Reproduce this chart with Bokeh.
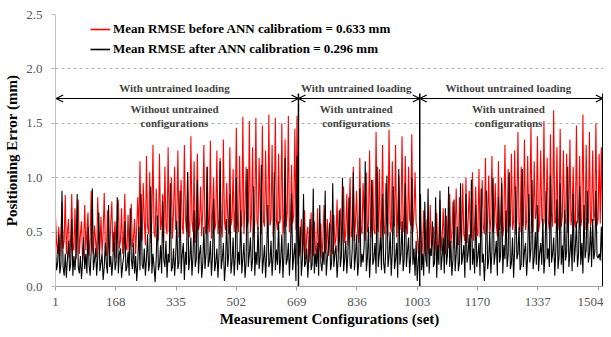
from bokeh.plotting import figure
from bokeh.models import (FixedTicker, Arrow, OpenHead, Label, Legend, LegendItem,
                          Range1d, PrintfTickFormatter)
from bokeh.embed import file_html
from bokeh.resources import INLINE

# ---------------- data (one value every 3 configurations) -------------
STEP = 3
red_before = [
    # configurations 1-230
    0.65, 0.40, 0.30, 0.55, 0.28, 0.48, 0.78, 0.35, 0.42, 0.84,
    0.30, 0.50, 0.62, 0.26, 0.45, 0.85, 0.38, 0.33, 0.72, 0.25,
    0.55, 0.80, 0.30, 0.48, 0.60, 0.24, 0.40, 0.75, 0.33, 0.52,
    0.68, 0.28, 0.44, 0.88, 0.36, 0.30, 0.56, 0.42, 0.27, 0.82,
    0.46, 0.34, 0.64, 0.30, 0.50, 0.86, 0.36, 0.28, 0.70, 0.40,
    0.27, 0.58, 0.78, 0.32, 0.45, 0.60, 0.26, 0.52, 0.80, 0.35,
    0.42, 0.72, 0.30, 0.48, 0.85, 0.38, 0.33, 0.66, 0.28, 0.50,
    0.76, 0.36, 0.44, 0.62, 0.30, 0.55, 0.82,
    # 232-330
    0.45, 1.15, 0.50, 0.42, 0.95, 0.60, 0.38, 1.20, 0.55, 0.48,
    1.05, 0.40, 0.62, 1.30, 0.50, 0.45, 0.90, 0.58, 0.42, 1.22,
    0.52, 0.60, 0.85, 0.40, 1.10, 0.55, 0.48, 1.28, 0.50, 0.62,
    1.00, 0.44, 0.70,
    # 333-500
    1.10, 0.52, 0.60, 1.25, 0.45, 0.70, 0.98, 0.55, 0.48, 1.30,
    0.62, 0.50, 1.05, 0.58, 0.45, 1.38, 0.60, 0.50, 1.15, 0.40,
    0.66, 1.22, 0.52, 0.58, 0.92, 0.46, 0.70, 1.30, 0.55, 0.48,
    1.10, 0.62, 0.50, 1.34, 0.44, 0.68, 1.00, 0.52, 0.58, 1.25,
    0.48, 0.62, 1.18, 0.55, 0.45, 1.35, 0.60, 0.52, 0.95, 0.66,
    0.48, 1.28, 0.56, 0.62, 1.08, 0.50, 0.72,
    # 502-670
    1.46, 0.58, 0.50, 1.20, 0.62, 0.55, 1.56, 0.48, 0.70, 1.10,
    0.55, 0.60, 1.52, 0.50, 0.66, 1.28, 0.45, 0.58, 1.55, 0.62,
    0.52, 1.18, 0.70, 0.48, 1.48, 0.60, 0.55, 1.25, 0.66, 0.50,
    1.58, 0.56, 0.62, 1.30, 0.46, 0.70, 1.55, 0.60, 0.52, 1.22,
    0.58, 0.64, 1.50, 0.48, 0.60, 1.35, 0.55, 0.68, 1.57, 0.50,
    0.62, 1.12, 0.58, 0.66, 1.45, 0.52, 1.57,
    # 673-800
    0.45, 0.28, 0.35, 0.62, 0.30, 0.40, 0.70, 0.25, 0.48, 0.55,
    0.22, 0.38, 0.68, 0.30, 0.28, 0.60, 0.36, 0.24, 0.72, 0.32,
    0.40, 0.58, 0.26, 0.45, 0.75, 0.30, 0.36, 0.62, 0.28, 0.42,
    0.70, 0.34, 0.30, 0.66, 0.38, 0.45, 0.80, 0.32, 0.48, 0.72,
    0.36, 0.55, 0.92,
    # 802-1003
    0.40, 0.50, 0.85, 0.38, 0.62, 1.00, 0.45, 0.55, 1.10, 0.42,
    0.60, 0.88, 0.50, 0.40, 1.18, 0.55, 0.48, 0.95, 0.62, 0.42,
    1.05, 0.50, 0.58, 1.25, 0.45, 0.66, 0.98, 0.52, 0.48, 1.42,
    0.60, 0.50, 1.08, 0.44, 0.62, 1.30, 0.55, 0.48, 0.95, 0.66,
    0.46, 1.44, 0.58, 0.50, 1.15, 0.62, 0.55, 1.30, 0.45, 0.68,
    1.02, 0.52, 0.60, 1.38, 0.50, 0.64, 1.20, 0.55, 0.48, 1.10,
    0.62, 0.56, 1.40, 0.50, 0.66, 1.05, 0.58, 0.52,
    # 1006-1100
    0.30, 0.45, 0.58, 0.25, 0.40, 0.70, 0.32, 0.28, 0.62, 0.36,
    0.30, 0.75, 0.35, 0.42, 0.55, 0.28, 0.46, 0.68, 0.30, 0.40,
    0.80, 0.33, 0.45, 0.72, 0.38, 0.30, 0.65, 0.42, 0.35, 0.85,
    0.40, 0.48,
    # 1102-1270
    0.78, 0.35, 0.50, 0.90, 0.45, 0.38, 0.82, 0.55, 0.40, 0.95,
    0.48, 0.42, 1.00, 0.40, 0.60, 0.88, 0.50, 0.45, 1.05, 0.42,
    0.55, 0.92, 0.52, 0.46, 1.08, 0.45, 0.58, 0.98, 0.55, 0.48,
    1.18, 0.50, 0.60, 1.02, 0.48, 0.62, 1.20, 0.50, 0.56, 0.95,
    0.58, 0.46, 1.15, 0.52, 0.62, 1.00, 0.46, 0.55, 1.30, 0.58,
    0.50, 1.08, 0.62, 0.55, 1.22, 0.52, 0.60,
    # 1273-1519
    1.25, 0.48, 0.62, 1.42, 0.58, 0.50, 1.10, 0.65, 0.56, 1.35,
    0.52, 0.60, 1.20, 0.55, 0.68, 1.48, 0.55, 0.50, 1.15, 0.62,
    0.68, 1.38, 0.50, 0.58, 1.25, 0.62, 0.55, 1.52, 0.58, 0.66,
    1.18, 0.60, 0.52, 1.40, 0.66, 0.55, 1.62, 0.58, 0.60, 1.28,
    0.52, 0.64, 1.45, 0.55, 0.65, 1.25, 0.60, 0.58, 1.22, 0.50,
    0.62, 1.35, 0.56, 0.68, 1.10, 0.60, 0.54, 1.48, 0.58, 0.66,
    1.20, 0.55, 0.62, 1.58, 0.60, 0.52, 1.30, 0.66, 0.58, 1.42,
    0.55, 0.62, 1.25, 0.60, 0.68, 1.50, 0.56, 0.62, 1.22, 0.58,
    1.28, 0.66, 1.22,
]
black_after = [
    # configurations 1-670
    0.35, 0.15, 0.22, 0.48, 0.12, 0.20, 0.88, 0.18, 0.10, 0.30,
    0.08, 0.25, 0.42, 0.14, 0.20, 0.62, 0.10, 0.28, 0.15, 0.32,
    0.85, 0.18, 0.12, 0.28, 0.07, 0.22, 0.45, 0.16, 0.30, 0.12,
    0.55, 0.20, 0.10, 0.34, 0.90, 0.15, 0.24, 0.35, 0.10, 0.26,
    0.68, 0.14, 0.22, 0.30, 0.06, 0.18, 0.40, 0.20, 0.12, 0.75,
    0.18, 0.28, 0.10, 0.24, 0.50, 0.15, 0.22, 0.82, 0.12, 0.30,
    0.35, 0.08, 0.20, 0.28, 0.60, 0.14, 0.18, 0.32, 0.10, 0.72,
    0.25, 0.16, 0.40, 0.12, 0.28, 0.05, 0.22, 0.55, 0.15, 0.85,
    0.20, 0.16, 0.35, 0.10, 0.25, 0.48, 0.14, 0.22, 0.92, 0.12,
    0.30, 0.18, 0.04, 0.26, 0.65, 0.15, 0.20, 0.38, 0.12, 0.78,
    0.25, 0.18, 0.42, 0.08, 0.30, 0.22, 0.95, 0.14, 0.18, 0.35,
    0.10, 0.28, 0.60, 0.16, 0.22, 0.88, 0.12, 0.30, 0.40, 0.06,
    0.32, 0.20, 1.05, 0.15, 0.25, 0.45, 0.10, 0.28, 0.70, 0.18,
    0.25, 0.98, 0.12, 0.30, 0.38, 0.08, 0.22, 0.55, 0.16, 0.30,
    1.10, 0.18, 0.24, 0.42, 0.10, 0.28, 0.80, 0.14, 0.22, 0.35,
    0.08, 0.30, 1.15, 0.16, 0.25, 0.40, 0.05, 0.20, 0.62, 0.18,
    0.30, 0.85, 0.12, 0.22, 0.45, 0.10, 0.28, 1.00, 0.15, 0.32,
    0.20, 0.70, 0.12, 0.26, 0.40, 0.08, 0.22, 1.08, 0.18, 0.30,
    0.45, 0.14, 0.25, 0.92, 0.10, 0.32, 0.20, 0.55, 0.16, 0.28,
    1.12, 0.12, 0.24, 0.38, 0.08, 0.30, 0.75, 0.18, 0.22, 0.42,
    0.10, 0.28, 1.05, 0.15, 0.34, 0.20, 0.60, 0.12, 0.26, 0.48,
    0.08, 0.30, 1.18, 0.20, 0.25, 0.40, 0.10, 0.32, 0.85, 0.15,
    0.28, 0.40, 0.05, 1.20,
    # 673-1003
    0.20, 0.32, 0.55, 0.10, 0.25, 0.85, 0.18, 0.22, 0.35, 0.08,
    0.28, 0.62, 0.15, 0.20, 0.90, 0.12, 0.30, 0.18, 0.40, 0.10,
    0.75, 0.22, 0.14, 0.32, 0.20, 0.88, 0.10, 0.26, 0.35, 0.58,
    0.15, 0.22, 0.95, 0.18, 0.30, 0.38, 0.08, 0.25, 0.70, 0.18,
    0.28, 1.00, 0.14, 0.25, 0.42, 0.12, 0.30, 0.82, 0.20, 0.16,
    0.35, 1.05, 0.15, 0.28, 0.48, 0.10, 0.22, 0.90, 0.18, 0.30,
    0.22, 0.38, 1.15, 0.14, 0.26, 0.55, 0.08, 0.30, 0.98, 0.20,
    0.25, 0.40, 0.12, 1.10, 0.18, 0.30, 0.45, 0.15, 0.85, 0.22,
    0.12, 0.35, 1.02, 0.18, 0.28, 0.50, 0.10, 0.32, 0.92, 0.16,
    0.25, 0.40, 0.08, 1.08, 0.20, 0.30, 0.60, 0.14, 0.26, 0.95,
    0.18, 0.32, 0.45, 0.12, 0.28, 1.00, 0.20, 0.35, 0.10, 0.42,
    0.05,
    # 1006-1519
    0.22, 0.40, 0.85, 0.15, 0.30, 0.10, 0.78, 0.25, 0.18, 0.90,
    0.12, 0.35, 0.28, 0.60, 0.18, 0.22, 0.82, 0.08, 0.38, 0.20,
    0.88, 0.15, 0.28, 0.45, 0.12, 0.72, 0.20, 0.30, 0.92, 0.18,
    0.42, 0.10, 0.25, 0.80, 0.14, 0.30, 0.55, 0.14, 0.22, 0.95,
    0.20, 0.28, 0.38, 0.08, 0.85, 0.22, 0.30, 0.48, 0.15, 0.98,
    0.20, 0.35, 0.12, 0.75, 0.18, 0.28, 0.40, 0.10, 0.90, 0.22,
    0.30, 0.05, 0.26, 0.88, 0.16, 0.25, 0.50, 0.12, 0.32, 1.00,
    0.20, 0.30, 0.42, 0.10, 0.82, 0.22, 0.28, 0.95, 0.12, 0.38,
    0.25, 0.70, 0.18, 0.30, 1.05, 0.16, 0.22, 0.45, 0.08, 0.35,
    0.92, 0.25, 0.30, 0.55, 0.15, 0.20, 1.08, 0.18, 0.32, 0.40,
    0.10, 0.28, 0.85, 0.22, 0.35, 0.98, 0.16, 0.26, 0.50, 0.20,
    0.75, 0.14, 0.30, 0.40, 0.20, 0.62, 0.12, 0.28, 0.88, 0.25,
    0.35, 0.18, 1.02, 0.22, 0.30, 0.45, 0.10, 0.34, 0.80, 0.16,
    0.28, 0.95, 0.20, 0.38, 0.12, 0.70, 0.24, 0.32, 1.10, 0.18,
    0.30, 0.48, 0.14, 0.85, 0.22, 0.36, 0.60, 0.18, 0.30, 0.92,
    0.20, 0.40, 0.12, 0.75, 0.26, 0.34, 0.88, 0.22, 0.30, 0.55,
    0.18, 0.62, 0.25, 0.32, 0.88, 0.28, 0.26, 0.30, 0.24, 0.55,
    0.22, 0.28,
]
x_red = [1 + STEP * i for i in range(len(red_before))]
x_black = [1 + STEP * i for i in range(len(black_after))]

x_ticks = [1, 168, 335, 502, 669, 836, 1003, 1170, 1337, 1504]
y_ticks = [0.0, 0.5, 1.0, 1.5, 2.0, 2.5]

seg_starts = [3, 674, 1010]
seg_ends = [674, 1010, 1517]
top_labels = ["With untrained loading", "With untrained loading", "Without untrained loading"]
sub_labels1 = ["Without untrained", "With untrained", "With untrained"]
sub_labels2 = ["configurations", "configurations", "configurations"]
legend_labels = ["Mean RMSE before ANN calibratiom = 0.633 mm",
                 "Mean RMSE after ANN calibration = 0.296 mm"]
legend_colors = ["#ff0000", "#000000"]

SERIF = "Liberation Serif"
FRAME_BOTTOM = 286  # px from top of figure

p = figure(width=603, height=329, x_range=Range1d(1, 1519), y_range=Range1d(0, 2.5),
           output_backend="svg", toolbar_location=None,
           min_border_left=55, min_border_right=0, min_border_top=14, min_border_bottom=43)
p.outline_line_color = None
p.background_fill_color = "white"
p.xgrid.visible = False
p.ygrid.grid_line_color = "#b5b5b5"
p.ygrid.grid_line_dash = "3 3"
p.ygrid.grid_line_width = 1

# axes
p.xaxis.ticker = FixedTicker(ticks=x_ticks)
p.yaxis.ticker = FixedTicker(ticks=y_ticks)
p.yaxis.formatter = PrintfTickFormatter(format="%.1f")
for ax in (p.xaxis, p.yaxis):
    ax.minor_tick_line_color = None
    ax.major_tick_in = 0
    ax.major_tick_out = 4
    ax.major_label_text_font = SERIF
    ax.major_label_text_font_size = "13px"
    ax.major_label_text_color = "#555555"
    ax.axis_label_text_font = SERIF
    ax.axis_label_text_font_style = "bold"
    ax.axis_label_text_font_size = "15px"
    ax.axis_label_text_color = "black"
p.xaxis.axis_line_color = "#a0a0a0"
p.xaxis.major_tick_line_color = "#a0a0a0"
p.yaxis.axis_line_color = "#c0c0c0"
p.yaxis.major_tick_line_color = "#c0c0c0"
p.yaxis.major_label_standoff = 9
p.xaxis.major_label_standoff = 7
p.xaxis.axis_label = "Measurement Configurations (set)"
p.yaxis.axis_label = "Positioning Error (mm)"
p.xaxis.axis_label_standoff = 2
p.yaxis.axis_label_standoff = 3

# series
r_red = p.line(x_red, red_before, line_color=legend_colors[0], line_width=1.1)
r_blk = p.line(x_black, black_after, line_color=legend_colors[1], line_width=1.1)

# legend sample glyphs: single-point lines (draw nothing in the frame), slightly thicker
leg_red = p.line(x_red[:1], red_before[:1], line_color=legend_colors[0], line_width=1.6)
leg_blk = p.line(x_black[:1], black_after[:1], line_color=legend_colors[1], line_width=1.6)

# region dividers and arrows
p.segment(x0=seg_ends, y0=[0] * 3, x1=seg_ends, y1=[1.774] * 3, line_color="black", line_width=1.5)
for a, b in zip(seg_starts, seg_ends):
    p.add_layout(Arrow(x_start=a, y_start=1.728, x_end=b, y_end=1.728, line_width=1.2,
                       start=OpenHead(size=7, line_width=1.2),
                       end=OpenHead(size=7, line_width=1.2)))
for a, b, t1, t2, t3 in zip(seg_starts, seg_ends, top_labels, sub_labels1, sub_labels2):
    mid = (a + b) / 2 - 8
    for yy, tt in ((1.820, t1), (1.627, t2), (1.507, t3)):
        p.add_layout(Label(x=mid, y=yy, text=tt, text_font=SERIF, text_font_size="11px",
                           text_font_style="bold", text_align="center", text_baseline="middle"))

# legend: one row each, placed where the reference shows them
for r, lab, row_center in ((leg_red, legend_labels[0], 28), (leg_blk, legend_labels[1], 48)):
    lg = Legend(items=[LegendItem(label=lab, renderers=[r])],
                location=(35, FRAME_BOTTOM - row_center - 11), orientation="vertical",
                glyph_width=20, glyph_height=20, label_height=20, label_standoff=3,
                spacing=0, padding=0, margin=0, border_line_color=None,
                background_fill_alpha=0,
                label_text_font=SERIF, label_text_font_size="13px",
                label_text_font_style="bold", label_text_color="black")
    p.add_layout(lg)

open("out.html", "w").write(file_html(p, INLINE))
